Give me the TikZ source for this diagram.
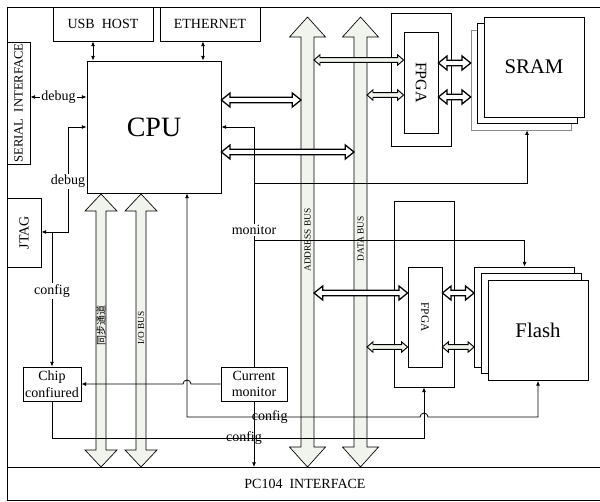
\documentclass[tikz,border=0pt]{standalone}
\usepackage{fontspec}
\setmainfont{Liberation Serif}
\newfontfamily\cjk{Noto Sans CJK SC}
\usepackage{graphicx}
\usepackage{xcolor}
\definecolor{cBus}{HTML}{F1F4EC}
\definecolor{cLayer}{HTML}{8C8C8C}
\usetikzlibrary{arrows.meta, calc}
\newdimen\pxu \pxu=0.75pt
\newcommand{\fnorm}{\fontsize{10.5}{12.6}\selectfont}
\newcommand{\fsmall}{\fontsize{7}{8}\selectfont}
% svisla sbernice: jmeno, x, y horni spicky, y dolni spicky, pul drik, pul hlavy, delka hlavy
\newcommand{\vbus}[7]{%
  \draw[bus] (#2,#3) -- (#2+#6,#3+#7) -- (#2+#5,#3+#7) -- (#2+#5,#4-#7)
    -- (#2+#6,#4-#7) -- (#2,#4) -- (#2-#6,#4-#7) -- (#2-#5,#4-#7)
    -- (#2-#5,#3+#7) -- (#2-#6,#3+#7) -- cycle;
  \coordinate (#1w) at (#2-#5,#3);
  \coordinate (#1e) at (#2+#5,#3);}
% dutá obousmerna sipka: styl, odkud, kam, y radku, delka hlavy, pul hlavy, pul drik
\newcommand{\dbarrow}[7]{%
  \draw[#1] let \p1=(#2), \p2=(#3), \p3=(0,#4) in
    (\x1,\y3) -- (\x1+#5,\y3+#6) -- (\x1+#5,\y3+#7) -- (\x2-#5,\y3+#7)
    -- (\x2-#5,\y3+#6) -- (\x2,\y3) -- (\x2-#5,\y3-#6) -- (\x2-#5,\y3-#7)
    -- (\x1+#5,\y3-#7) -- (\x1+#5,\y3-#6) -- cycle;}
\newcommand{\widearr}[3]{\dbarrow{wide}{#1}{#2}{#3}{6.5pt}{5.25pt}{2.1pt}}
\newcommand{\thinarr}[3]{\dbarrow{thinw}{#1}{#2}{#3}{4.5pt}{3.9pt}{1.8pt}}

\begin{document}
\begin{tikzpicture}[x=0.75pt, y=-0.75pt,
    box/.style    = {draw, line width=0.6pt, fill=white, inner sep=1pt,
                     align=center, font=\fnorm},
    layer/.style  = {box, minimum width=100\pxu, minimum height=100\pxu},
    lbl/.style    = {fill=white, inner sep=1pt, font=\fnorm},
    cfg/.style    = {inner sep=0pt, font=\fnorm},
    buslbl/.style = {rotate=90, inner sep=0pt, font=\fsmall},
    bus/.style    = {draw, line width=0.5pt, fill=cBus},
    sig/.style    = {-{Latex[length=3.5pt,width=3pt]}, line width=0.6pt},
    sigb/.style   = {{Latex[length=3.5pt,width=3pt]}-{Latex[length=3.5pt,width=3pt]},
                     line width=0.6pt},
    wide/.style   = {draw, fill=white, line width=0.95pt},
    thinw/.style  = {draw, fill=cBus, line width=0.7pt}
]
\useasboundingbox (0,0) rectangle (600,501);
% --- Sloupce: x souradnice -----------------------------------------------
\def\xCfg{187}
\def\xMon{254}

% --- Ramec + PC104 -------------------------------------------------------
\draw[line width=0.7pt] (600,7) -- (7,7) -- (7,500) -- (600,500);
\draw[line width=0.7pt] (7,467) -- (600,467);
\coordinate (pcTop) at (7,467);
\node[font=\fnorm] (pc) at (305,484) {PC104\ \ INTERFACE};

% --- Sbernice ------------------------------------------------------------
\vbus{sync}{101}{194}{467}{5}{16}{17}
\vbus{io}{141}{194}{467}{5}{16}{17}
\vbus{addr}{307.5}{17}{467}{6.5}{18}{20}
\vbus{data}{360.5}{17}{467}{6.5}{18}{20}
\node[buslbl, font=\cjk\fontsize{7.5}{8}\selectfont] (syncL) at (101,325) {同步通道};
\node[buslbl] (ioL)   at (141,328)   {I/O BUS};
\node[buslbl] (addrL) at (307.5,240) {ADDRESS BUS};
\node[buslbl] (dataL) at (360.5,239) {DATA BUS};

% --- Bloky vlevo ---------------------------------------------------------
\node[box, minimum width=100\pxu, minimum height=34\pxu] (usb) at (103,24) {USB\ \ HOST};
\node[box, minimum width=100\pxu, minimum height=34\pxu] (eth) at (210,24) {ETHERNET};
\node[box, minimum width=134\pxu, minimum height=132\pxu,
      font=\fontsize{21}{24}\selectfont] (cpu) at (154,127) {CPU};
\node[box, minimum width=23\pxu, minimum height=120\pxu] (serial) at (18.5,103)
  {\rotatebox{90}{\fontsize{9.5}{10}\selectfont SERIAL\ \ INTERFACE}};
\node[box, minimum width=34\pxu, minimum height=69\pxu] (jtag) at (24,232.5)
  {\rotatebox{90}{JTAG}};
\node[box, minimum width=58\pxu, minimum height=34\pxu] (chip) at (52,384) {Chip\\confiured};
\node[box, minimum width=66\pxu, minimum height=34\pxu] (curmon) at (\xMon,384) {Current\\monitor};

% --- SRAM vetev (nahore) --------------------------------------------------
\node[box, minimum width=60\pxu, minimum height=133\pxu] (fpgaA) at (421,79.5) {};
\node[box, minimum width=34\pxu, minimum height=101\pxu] (fpgaAi) at (421,82.5)
  {\rotatebox{-90}{\fontsize{12}{14}\selectfont FPGA}};
\node[layer, draw=cLayer, line width=0.4pt] (sramBack) at (521,80) {};
\node[layer] (sramMid) at (527.5,73.5) {};
\node[layer, font=\fontsize{15.6}{18}\selectfont] (sram) at (534,67) {SRAM};

% --- Flash vetev (dole) ---------------------------------------------------
\node[box, minimum width=60\pxu, minimum height=186\pxu] (fpgaB) at (424,294) {};
\node[box, minimum width=34\pxu, minimum height=100\pxu] (fpgaBi) at (425,317)
  {\rotatebox{-90}{\fontsize{8.5}{10}\selectfont FPGA}};
\node[layer] (flashBack) at (524.5,317) {};
\node[layer] (flashMid) at (531.5,323.5) {};
\node[layer, font=\fontsize{15.6}{18}\selectfont] (flash) at (538,330.5) {Flash};

% --- Siroke sipky (sbernice) ---------------------------------------------
\widearr{cpu.east}{addrw}{100}
\widearr{cpu.east}{dataw}{152}
\thinarr{addre}{fpgaAi.west}{60}
\thinarr{datae}{fpgaAi.west}{95}
\widearr{fpgaAi.east}{sramBack.west}{63}
\widearr{fpgaAi.east}{sramBack.west}{97}
\widearr{addre}{fpgaBi.west}{293}
\thinarr{datae}{fpgaBi.west}{347}
\widearr{fpgaBi.east}{flashBack.west}{293}
\thinarr{fpgaBi.east}{flashBack.west}{347}

% --- Tenke signaly -------------------------------------------------------
\draw[sigb] (usb.south -| 93,0) -- (cpu.north -| 93,0);
\draw[sigb] (eth.south -| 203,0) -- (cpu.north -| 203,0);
\draw[sigb] (serial.east |- 0,97) -- node[lbl] (dbgA) {debug} (cpu.west |- 0,97);
\coordinate (dbg) at (68,232);
\draw[sigb] (cpu.west) -| node[lbl, pos=0.76] (dbgB) {debug} (dbg) -- (jtag.east |- dbg);
\draw[sig] (chip.north |- dbg) -- node[lbl, pos=0.44] (cfgA) {config} (chip.north);

% monitor: Current monitor -> CPU, odbocky k SRAM a Flash
\draw[sig] (curmon.north) |- node[lbl, pos=0.285] (monL) {monitor} (cpu.east);
\coordinate (jM1) at (\xMon,183);
\coordinate (jM2) at (\xMon,240);
\draw[sig] (jM1) -| (sramBack.south -| 527,0);
\draw[sig] (jM2) -| (flashBack.north);

% Current monitor -> Chip (s preskokem)
\coordinate (hopA) at (\xCfg+4,384);
\draw[sig] (curmon.west) -- (hopA) arc[start angle=0, end angle=180, radius=3pt]
  -- (chip.east);

% config: CPU <-> Flash (s preskokem)
\coordinate (hopB) at (420,417);
\draw[sigb] (cpu.south -| \xCfg,0) -- (\xCfg,417)
  -- node[cfg, pos=0.355] (cfgB) {config} (hopB)
  arc[start angle=180, end angle=0, radius=3pt] -| (flash.south);

% config: Chip -> FPGA (dole)
\draw[sig] (chip.south) |- node[cfg, pos=0.758] (cfgC) {config} (fpgaB.south |- 0,438)
  -- (fpgaB.south);
\draw[sig] (curmon.south) -- (curmon.south |- pcTop);
\end{tikzpicture}
\end{document}
